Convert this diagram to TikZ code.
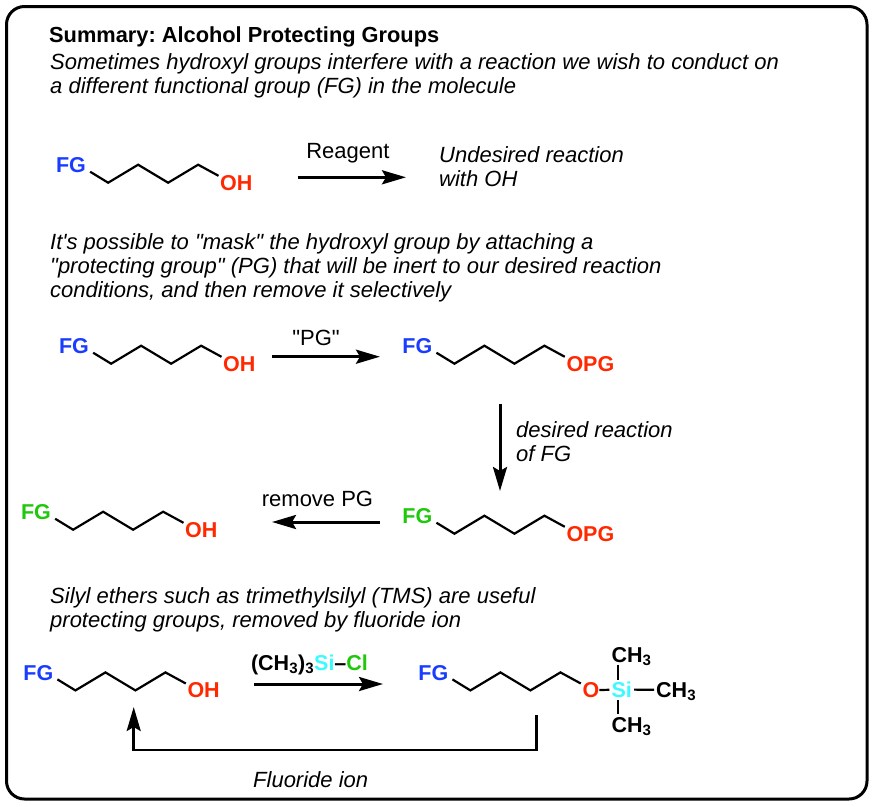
\documentclass[tikz,border=0pt]{standalone}
\usepackage{fontspec}
\setmainfont[Ligatures=TeXOff]{Liberation Sans}
\usetikzlibrary{arrows.meta}
\definecolor{fgblue}{RGB}{25,60,255}
\definecolor{fggreen}{RGB}{30,200,10}
\definecolor{oxred}{RGB}{255,40,0}
\definecolor{sicyan}{RGB}{60,250,255}
\tikzset{
  bond/.style={line width=2.2pt,line join=miter},
  rxn/.style={line width=3pt,-{Stealth[length=24pt,width=14pt,inset=4pt]}},
  atom/.style={font=\fontsize{21.5}{24}\selectfont\bfseries,inner sep=0pt,text depth=0pt},
  note/.style={font=\fontsize{22}{24}\selectfont\itshape,align=left,anchor=west,inner sep=0pt},
  plain/.style={font=\fontsize{22}{24}\selectfont,inner sep=0pt}
}
\frenchspacing
\begin{document}
\begin{tikzpicture}[x=1pt,y=-1pt]
\useasboundingbox (0,0) rectangle (874,806);
\draw[line width=3pt,rounded corners=18pt] (6.5,6.5) rectangle (867,799);
% texts
\node[note,font=\fontsize{21.8}{24}\selectfont\bfseries] (title) at (49,37) {Summary: Alcohol Protecting Groups};
\node[note] (intro) at (50,75.5) {Sometimes hydroxyl groups interfere with a reaction we wish to conduct on\\a different functional group (FG) in the molecule};
\node[note] (undesired) at (439,167) {Undesired reaction\\with OH};
\node[note] (mask) at (50,268) {It's possible to "mask" the hydroxyl group by attaching a\\"protecting group" (PG) that will be inert to our desired reaction\\conditions, and then remove it selectively};
\node[note] (desired) at (516,442) {desired reaction\\of FG};
\node[note] (silyl) at (50,610) {Silyl ethers such as trimethylsilyl (TMS) are useful\\protecting groups, removed by fluoride ion};
\node[note] (fluoride) at (253,779.5) {Fluoride ion};
% chains
\foreach \i/\x/\y/\col/\tail in {1/71/165/fgblue/OH,2/74/346/fgblue/OH,3/417.3/346/fgblue/OPG,4/417.3/516/fggreen/OPG,5/36/512/fggreen/OH,6/38.3/672.7/fgblue/OH,7/433.3/672.7/fgblue/O}
{
  \node[atom,text=\col] (fg\i) at (\x,\y) {FG};
  \node[atom,text=oxred,anchor=west] (end\i) at (\x+149,\y+17.5) {\tail};
  \draw[bond] ([shift={(4,-1)}]fg\i.south east) -- ++(18,11) -- ++(30,-18) -- ++(30,18) -- ++(30,-18)
    -- ([shift={(-1.5,1)}]end\i.north west);
}
% silyl group
\node[atom,text=sicyan,inner sep=2pt] (si) at (621.7,689.5) {Si};
\node[atom,anchor=west,inner sep=2pt] (chtop) at (609.3,655) {CH\textsubscript{3}};
\node[atom,anchor=west,inner sep=3pt] (chbot) at (608.3,724.5) {CH\textsubscript{3}};
\node[atom,anchor=west,inner sep=2pt] (chright) at (654,690) {CH\textsubscript{3}};
\draw[bond] (end7) -- (si);
\draw[bond] ([xshift=9pt]chtop.south west) -- ([xshift=9pt]chtop.south west |- si.north);
\draw[bond] ([xshift=10pt]chbot.north west) -- ([xshift=10pt]chbot.north west |- si.south);
\draw[bond] (si) -- (chright);
% arrows
\coordinate (a1) at (297.7,177.3);
\coordinate (b1) at (406,177.3);
\draw[rxn] (a1) -- node[plain,above=12.5pt,xshift=-4pt] (reagent) {Reagent} (b1);
\coordinate (a2) at (272,356.7);
\coordinate (b2) at (380,356.7);
\draw[rxn] (a2) -- node[plain,above=9pt,xshift=-10pt] (pg) {"PG"} (b2);
\coordinate (a3) at (500,404);
\coordinate (b3) at (500,491);
\draw[rxn] (a3) -- (b3);
\coordinate (a4) at (380,522);
\coordinate (b4) at (272,522);
\draw[rxn] (a4) -- node[plain,above=14pt,xshift=-8.5pt] (removepg) {remove PG} (b4);
\coordinate (a5) at (254,684);
\coordinate (b5) at (383,684);
\draw[rxn] (a5) -- node[atom,above=12pt,xshift=-9pt] (tms) {(CH\textsubscript{3})\textsubscript{3}\textcolor{sicyan}{Si}\textendash\textcolor{fggreen}{Cl}} (b5);
\coordinate (a6) at (536.7,715);
\coordinate (b6) at (133.7,707);
\draw[rxn,line width=2.5pt] (a6) |- (133.7,750) -- (b6);
\end{tikzpicture}
\end{document}
